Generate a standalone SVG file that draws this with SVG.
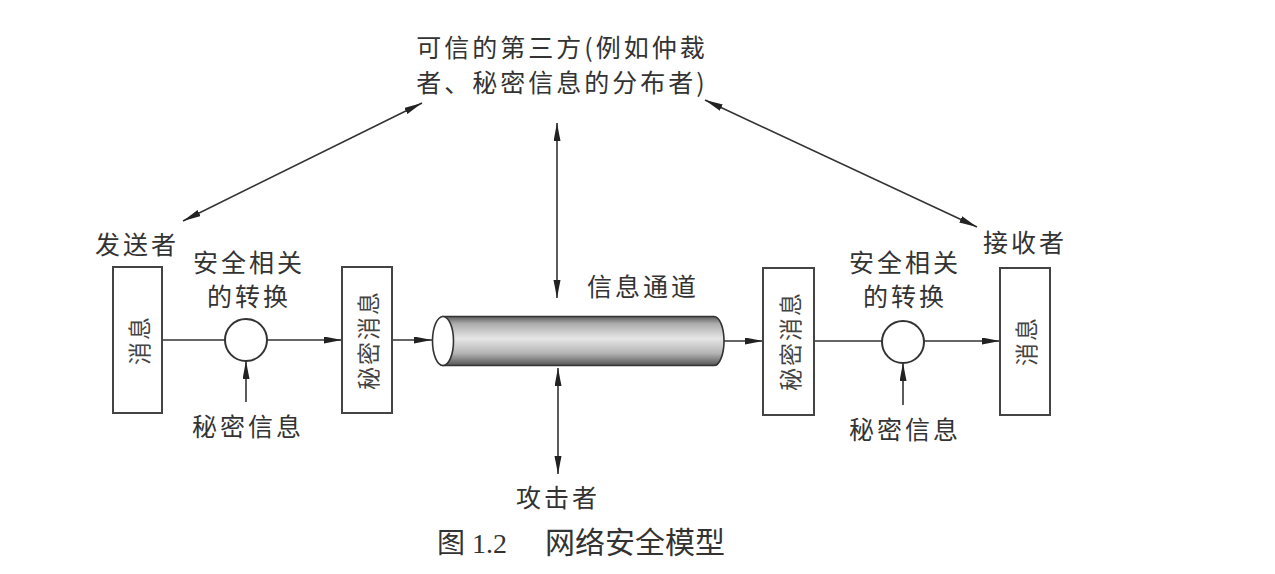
<svg xmlns="http://www.w3.org/2000/svg" width="1275" height="574" viewBox="0 0 1275 574">
<style>
.t{font-family:"Noto Sans CJK SC","Noto Sans",sans-serif;font-size:25px;fill:#333;letter-spacing:3px;text-anchor:middle}
.b{font-family:"Noto Sans CJK SC","Noto Sans",sans-serif;font-size:23px;fill:#444;letter-spacing:2px;text-anchor:middle;dominant-baseline:central}
.box{fill:#fff;stroke:#444;stroke-width:2}
.c{fill:#fff;stroke:#333;stroke-width:2}
.ln{stroke:#333;stroke-width:1.6;fill:none}
.cap{font-family:"Liberation Serif","Noto Sans CJK SC",serif;font-size:28px;fill:#333}
</style>
<defs>
<marker id="ah" markerUnits="userSpaceOnUse" markerWidth="20" markerHeight="8" refX="18" refY="3.5" orient="auto-start-reverse">
<path d="M0,0 L18,3.5 L0,7 z" fill="#222"/>
</marker>
<linearGradient id="cyl" x1="0" y1="0" x2="0" y2="1">
<stop offset="0" stop-color="#5e5e5e"/>
<stop offset="0.15" stop-color="#adadad"/>
<stop offset="0.45" stop-color="#e6e6e6"/>
<stop offset="0.75" stop-color="#b4b4b4"/>
<stop offset="1" stop-color="#555"/>
</linearGradient>
</defs>
<rect width="1275" height="574" fill="#fff"/>

<g id="connectors">
<line class="ln" x1="162" y1="340" x2="225" y2="340"/>
<line class="ln" x1="267" y1="340" x2="342" y2="340" marker-end="url(#ah)"/>
<line class="ln" x1="392" y1="340" x2="432" y2="340" marker-end="url(#ah)"/>
<line class="ln" x1="724" y1="341" x2="763" y2="341" marker-end="url(#ah)"/>
<line class="ln" x1="814" y1="341" x2="882" y2="341"/>
<line class="ln" x1="924" y1="341" x2="1000" y2="341" marker-end="url(#ah)"/>
<line class="ln" x1="246" y1="402" x2="246" y2="361" marker-end="url(#ah)"/>
<line class="ln" x1="903" y1="405" x2="903" y2="363" marker-end="url(#ah)"/>
<line class="ln" x1="557" y1="123" x2="557" y2="298" marker-start="url(#ah)" marker-end="url(#ah)"/>
<line class="ln" x1="558" y1="368" x2="558" y2="474" marker-start="url(#ah)" marker-end="url(#ah)"/>
<line class="ln" x1="183" y1="221" x2="422" y2="103" marker-start="url(#ah)" marker-end="url(#ah)"/>
<line class="ln" x1="705" y1="100" x2="977" y2="227" marker-start="url(#ah)" marker-end="url(#ah)"/>
</g>

<g id="third-party">
<text class="t" x="562" y="57">可信的第三方(例如仲裁</text>
<text class="t" x="562" y="92">者、秘密信息的分布者)</text>
</g>

<g id="sender">
<text class="t" x="137" y="254">发送者</text>
<rect class="box" x="113" y="267" width="49" height="146"/>
<text class="b" transform="translate(137.5,340) rotate(-90)">消息</text>
</g>

<g id="transform-left">
<text class="t" x="249" y="272">安全相关</text>
<text class="t" x="249" y="306">的转换</text>
<circle class="c" cx="246" cy="340" r="21"/>
</g>

<g id="secret-left">
<text class="t" x="248" y="436">秘密信息</text>
</g>

<g id="secret-msg-left">
<rect class="box" x="342" y="267" width="50" height="146"/>
<text class="b" transform="translate(367,340) rotate(-90)">秘密消息</text>
</g>

<g id="channel">
<path d="M443,316.5 L714,316.5 A10,24.5 0 0 1 714,365.5 L443,365.5 Z" fill="url(#cyl)" stroke="#333" stroke-width="1.6"/>
<ellipse cx="443" cy="341" rx="10.5" ry="24.5" fill="#fff" stroke="#333" stroke-width="1.6"/>
<text class="t" x="643" y="296">信息通道</text>
</g>

<g id="attacker">
<text class="t" x="558" y="507">攻击者</text>
</g>

<g id="secret-msg-right">
<rect class="box" x="763" y="268" width="51" height="147"/>
<text class="b" transform="translate(788.5,341) rotate(-90)">秘密消息</text>
</g>

<g id="transform-right">
<text class="t" x="905" y="272">安全相关</text>
<text class="t" x="905" y="306">的转换</text>
<circle class="c" cx="903" cy="342" r="21"/>
</g>

<g id="secret-right">
<text class="t" x="905" y="439">秘密信息</text>
</g>

<g id="receiver">
<text class="t" x="1025" y="252">接收者</text>
<rect class="box" x="1000" y="268" width="50" height="147"/>
<text class="b" transform="translate(1025,341) rotate(-90)">消息</text>
</g>

<g id="caption">
<text class="cap" x="437" y="553">图 1.2<tspan x="545" style="font-size:30px">网络安全模型</tspan></text>
</g>
</svg>
